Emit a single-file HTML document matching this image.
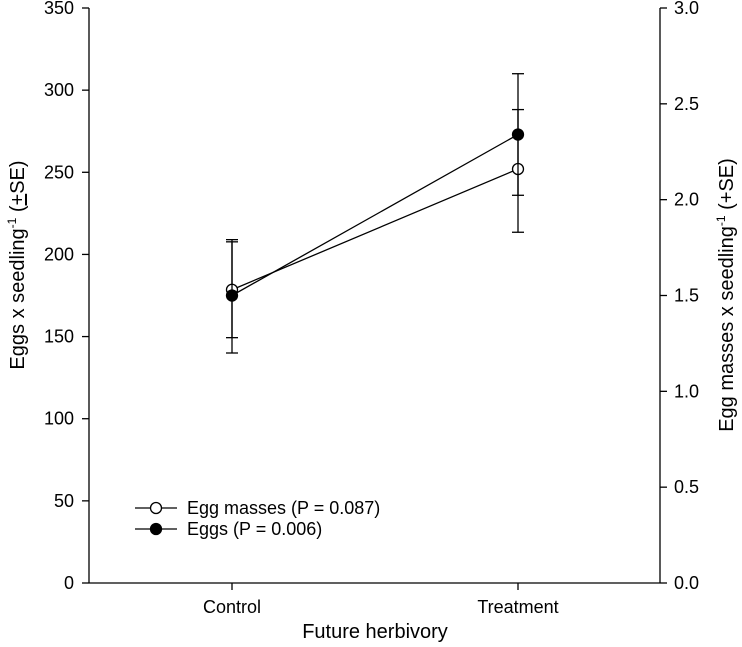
<!DOCTYPE html>
<html><head><meta charset="utf-8"><style>
body{margin:0;background:#fff;}
svg text{font-family:"Liberation Sans",Arial,sans-serif;fill:#000;}
</style></head><body>
<svg width="742" height="642">
<g id="g"></g>
</svg>
<script>
const categories=["Control","Treatment"];
const eggs=[175,273];
const eggsErrLo=[35,37];
const eggsErrHi=[34,37];
const masses=[1.53,2.16];
const massesErrLo=[0.25,0.33];
const massesErrHi=[0.25,0.31];
const leftTicks=[0,50,100,150,200,250,300,350];
const rightTicks=["0.0","0.5","1.0","1.5","2.0","2.5","3.0"];

const X0=89,X1=660,Y0=583,Y1=8;
const yL=v=>Y0-(v/350)*(Y0-Y1);
const yR=v=>Y0-(v/3)*(Y0-Y1);
const xC=i=>232+i*286;
const g=document.getElementById('g');
const NS='http://www.w3.org/2000/svg';
function mk(tag,attrs,name,txt){const e=document.createElementNS(NS,tag);for(const k in attrs)e.setAttribute(k,attrs[k]);


if(txt!==undefined)e.textContent=txt;g.appendChild(e);return e;}
const L=(x1,y1,x2,y2,n)=>mk('line',{x1,y1,x2,y2,stroke:'#000','stroke-width':1.3},n);
L(X0,Y1,X0,Y0,'left-axis');L(X1,Y1,X1,Y0,'right-axis');L(X0,Y0,X1,Y0,'x-axis');
leftTicks.forEach(t=>{const y=yL(t);L(X0-7,y,X0,y,'left-tick');
mk('text',{x:X0-15,y:y+6,'text-anchor':'end','font-size':18},'left-tick-label',t);});
rightTicks.forEach(t=>{const y=yR(+t);L(X1,y,X1+7,y,'right-tick');
mk('text',{x:X1+14,y:y+6,'font-size':18},'right-tick-label',t);});
categories.forEach((c,i)=>{L(xC(i),Y0,xC(i),Y0+7,'x-tick');
mk('text',{x:xC(i),y:613,'text-anchor':'middle','font-size':18},'x-tick-label',c);});
mk('text',{x:375,y:638,'text-anchor':'middle','font-size':20},'x-axis-title','Future herbivory');
const lt=mk('text',{transform:'translate(24,265) rotate(-90)','text-anchor':'middle','font-size':20},'left-axis-title');
lt.innerHTML='Eggs x seedling<tspan dy="-8" font-size="12">-1</tspan><tspan dy="8"> (</tspan><tspan text-decoration="underline">+</tspan>SE)';
const rt=mk('text',{transform:'translate(733,295) rotate(-90)','text-anchor':'middle','font-size':20},'right-axis-title');
rt.innerHTML='Egg masses x seedling<tspan dy="-8" font-size="12">-1</tspan><tspan dy="8"> (+SE)</tspan>';
function series(vals,lo,hi,ys,fill,n){
 const pts=vals.map((v,i)=>xC(i)+','+ys(v)).join(' ');
 mk('polyline',{points:pts,fill:'none',stroke:'#000','stroke-width':1.3},n+'-line');
 vals.forEach((v,i)=>{const x=xC(i);L(x,ys(v-lo[i]),x,ys(v+hi[i]),n+'-errorbar');
  L(x-6,ys(v-lo[i]),x+6,ys(v-lo[i]),n+'-errorcap');L(x-6,ys(v+hi[i]),x+6,ys(v+hi[i]),n+'-errorcap');});
 vals.forEach((v,i)=>mk('circle',{cx:xC(i),cy:ys(v),r:5.5,fill,stroke:'#000','stroke-width':1.3},n+'-point'));
}
series(masses,massesErrLo,massesErrHi,yR,'#fff','egg-masses');
series(eggs,eggsErrLo,eggsErrHi,yL,'#000','eggs');
[[508,'#fff','Egg masses (P = 0.087)'],[529,'#000','Eggs (P = 0.006)']].forEach(([y,f,t])=>{
 L(135,y,177,y,'legend-line');mk('circle',{cx:156,cy:y,r:5.5,fill:f,stroke:'#000','stroke-width':1.3},'legend-marker');
 mk('text',{x:187,y:y+6,'font-size':18},'legend-entry',t);});
</script>
</body></html>
